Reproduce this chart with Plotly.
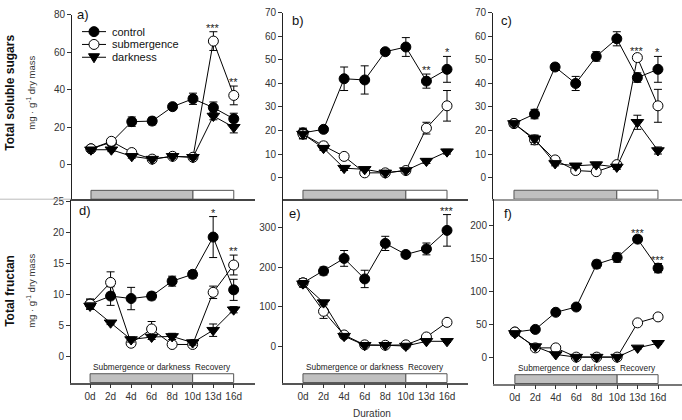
import plotly.graph_objects as go

# ---------------- data ----------------
categories = ["0d", "2d", "4d", "6d", "8d", "10d", "13d", "16d"]

# a) total soluble sugars
ctrl_a = [8.5, 12, 23, 23.3, 31, 35.2, 30.5, 24.5]
ctrl_a_err = [1, 1, 2.5, 2, 1.5, 3, 3, 3]
sub_a = [8.5, 12.5, 6.5, 3, 4.5, 4, 66, 37]
sub_a_err = [1, 1, 1, 0.8, 1, 1, 5, 5]
dark_a = [8, 8, 4.5, 3, 4.5, 4, 26, 20]
dark_a_err = [1, 1, 1, 0.8, 1, 1, 2, 3]

# b)
ctrl_b = [19, 20.5, 42, 41.5, 53.5, 55.5, 41, 46]
ctrl_b_err = [2, 1, 5, 6, 1, 4, 3, 5.5]
sub_b = [18.5, 13.5, 9, 2, 2, 3, 21, 30.5]
sub_b_err = [2, 1.5, 1, 1, 0.5, 0.5, 2.5, 6.5]
dark_b = [18.5, 12.5, 4, 3.5, 2, 3, 7, 11]
dark_b_err = [2, 1, 1, 0.5, 0.5, 0.5, 1, 1]

# c)
ctrl_c = [23, 27, 47, 40, 51.5, 59, 42.5, 46]
ctrl_c_err = [1, 2, 1.5, 3, 2, 3, 2, 5.5]
sub_c = [23, 16, 7.5, 3, 2.5, 5.5, 51, 30.5]
sub_c_err = [1, 2, 1, 0.5, 0.5, 1, 1, 7]
dark_c = [23, 16.5, 6, 5, 5.5, 4.5, 23.5, 11.5]
dark_c_err = [1, 1.5, 1, 1, 1, 1, 3, 1.5]

# d) total fructan
ctrl_d = [8.5, 9.8, 9.4, 9.8, 12.2, 13.3, 19.3, 10.8]
ctrl_d_err = [0.8, 1.5, 1.8, 0.6, 0.8, 0.6, 3.3, 1.7]
sub_d = [8.5, 12, 2.2, 4.5, 2, 2, 10.4, 14.8]
sub_d_err = [0.8, 1.7, 0.4, 1.2, 0.3, 0.3, 1, 1.6]
dark_d = [8.2, 5.5, 2.8, 3.2, 3.3, 2.3, 4.3, 7.6]
dark_d_err = [0.5, 0.3, 0.4, 0.4, 0.5, 0.4, 1, 0.5]

# e)
ctrl_e = [160, 190, 222, 170, 260, 232, 246, 293]
ctrl_e_err = [10, 10, 20, 22, 18, 8, 15, 40]
sub_e = [160, 88, 28, 3, 2, 3, 23, 60]
sub_e_err = [10, 18, 5, 2, 2, 2, 3, 5]
dark_e = [158, 110, 25, 2, 2, 0, 12, 12]
dark_e_err = [8, 6, 5, 2, 2, 2, 3, 3]

# f)
ctrl_f = [39, 43, 69, 77, 142, 152, 180, 136]
ctrl_f_err = [3, 3, 3, 3, 6, 7, 4, 7]
sub_f = [39, 15, 15, 1, 1, 1, 53, 62]
sub_f_err = [2, 2, 2, 1, 1, 1, 3, 3]
dark_f = [37, 17, 5, 1, 1, 1, 15, 22]
dark_f_err = [2, 2, 1, 1, 1, 1, 2, 2]

# significance marks: (category, stars)
sig_a = [("13d", "***"), ("16d", "**")]
sig_b = [("13d", "**"), ("16d", "*")]
sig_c = [("13d", "***"), ("16d", "*")]
sig_d = [("13d", "*"), ("16d", "**")]
sig_e = [("16d", "***")]
sig_f = [("13d", "***"), ("16d", "***")]

series_names = ["control", "submergence", "darkness"]
panel_labels = ["a)", "b)", "c)", "d)", "e)", "f)"]
yticks_a = [0, 20, 40, 60, 80]
yticks_bc = [0, 10, 20, 30, 40, 50, 60, 70]
yticks_d = [0, 5, 10, 15, 20, 25]
yticks_e = [0, 100, 200, 300]
yticks_f = [0, 50, 100, 150, 200]

# ---------------- layout config ----------------
W, H = 682, 420
FONT = "Liberation Sans, Arial, sans-serif"

def px(x):
    return x / W

def py(y):
    return 1 - y / H

panels = [
    dict(data=(ctrl_a, ctrl_a_err, sub_a, sub_a_err, dark_a, dark_a_err), sig=sig_a,
         dx=[px(72), px(255)], dy=[py(196), py(9)], xr=[-0.93, 8.04], yr=[-18.4, 80],
         yt=yticks_a, bottom=False, lab=(px(75), py(9)), xline="#444"),
    dict(data=(ctrl_b, ctrl_b_err, sub_b, sub_b_err, dark_b, dark_b_err), sig=sig_b,
         dx=[px(283), px(468)], dy=[py(196), py(7)], xr=[-0.97, 8.02], yr=[-9.2, 70],
         yt=yticks_bc, bottom=False, lab=(px(290), py(15)), xline="#444"),
    dict(data=(ctrl_c, ctrl_c_err, sub_c, sub_c_err, dark_c, dark_c_err), sig=sig_c,
         dx=[px(493), 1.0], dy=[py(196), py(7)], xr=[-1.02, 8.17], yr=[-9.2, 70],
         yt=yticks_bc, bottom=False, lab=(px(499), py(15)), xline="#999"),
    dict(data=(ctrl_d, ctrl_d_err, sub_d, sub_d_err, dark_d, dark_d_err), sig=sig_d,
         dx=[px(71), px(255)], dy=[py(382), py(196)], xr=[-0.93, 8.04], yr=[-4.13, 25.4],
         yt=yticks_d, bottom=True, lab=(px(77), py(207)), xline="#555"),
    dict(data=(ctrl_e, ctrl_e_err, sub_e, sub_e_err, dark_e, dark_e_err), sig=sig_e,
         dx=[px(283), px(468)], dy=[py(382), py(196)], xr=[-0.97, 8.02], yr=[-92.5, 372],
         yt=yticks_e, bottom=True, lab=(px(287), py(210)), xline="#555"),
    dict(data=(ctrl_f, ctrl_f_err, sub_f, sub_f_err, dark_f, dark_f_err), sig=sig_f,
         dx=[px(494), 1.0], dy=[py(383), py(196)], xr=[-1.02, 8.17], yr=[-39.1, 240.6],
         yt=yticks_f, bottom=True, lab=(px(502), py(210)), xline="#777"),
]

marker_styles = [
    dict(symbol="circle", size=10, color="black", line=dict(color="black", width=1)),
    dict(symbol="circle", size=10, color="white", line=dict(color="black", width=1)),
    dict(symbol="triangle-down", size=11, color="black", line=dict(color="black", width=1)),
]

fig = go.Figure()
layout = dict(
    width=W, height=H, margin=dict(l=0, r=0, t=0, b=0),
    paper_bgcolor="white", plot_bgcolor="rgba(0,0,0,0)",
    showlegend=False, font=dict(family=FONT, size=10, color="#333"),
)
shapes = []
annotations = []

for i, p in enumerate(panels):
    n = i + 1
    xa = "x" if n == 1 else f"x{n}"
    ya = "y" if n == 1 else f"y{n}"
    xkey = "xaxis" if n == 1 else f"xaxis{n}"
    ykey = "yaxis" if n == 1 else f"yaxis{n}"
    vals = p["data"]
    for s in range(3):
        y = vals[2 * s]
        err = vals[2 * s + 1]
        fig.add_trace(go.Scatter(
            x=categories, y=y, xaxis=xa, yaxis=ya, mode="lines+markers",
            name=series_names[s], line=dict(color="black", width=1),
            marker=marker_styles[s],
            error_y=dict(type="data", array=err, visible=True, color="black",
                         thickness=1, width=4),
        ))
    # significance stars above the highest error bar
    for cat, txt in p["sig"]:
        k = categories.index(cat)
        top = max(vals[2 * s][k] + vals[2 * s + 1][k] for s in range(3))
        annotations.append(dict(x=cat, y=top, xref=xa, yref=ya, text=txt,
                                showarrow=False, xanchor="center", yanchor="bottom",
                                yshift=-4,
                                font=dict(size=11, color="#222", family=FONT)))
    layout[xkey] = dict(
        domain=p["dx"], anchor=ya, type="category", range=p["xr"],
        categoryorder="array", categoryarray=categories,
        showline=True, linecolor=p["xline"], linewidth=1.5,
        showgrid=False, zeroline=False,
        showticklabels=p["bottom"], ticks="outside" if p["bottom"] else "",
        ticklen=4, tickcolor="#333",
        tickfont=dict(size=10, color="#333", family=FONT),
    )
    layout[ykey] = dict(
        domain=p["dy"], anchor=xa, range=p["yr"], tickvals=p["yt"],
        showline=True, linecolor="#222", linewidth=1,
        showgrid=False, zeroline=False, ticks="outside", ticklen=4,
        tickcolor="#333", tickfont=dict(size=10, color="#333", family=FONT),
    )
    # treatment bar
    bar_h = 0.048
    shapes.append(dict(type="rect", xref=xa, yref=f"{ya} domain", x0=0, x1=5,
                       y0=0, y1=bar_h, fillcolor="#c0c0c0",
                       line=dict(color="#555", width=1), layer="below"))
    shapes.append(dict(type="rect", xref=xa, yref=f"{ya} domain", x0=5, x1=7,
                       y0=0, y1=bar_h, fillcolor="white",
                       line=dict(color="#555", width=1), layer="below"))
    if p["bottom"]:
        annotations.append(dict(x=2.5, y=bar_h, xref=xa, yref=f"{ya} domain",
                                text="Submergence or darkness", showarrow=False,
                                xanchor="center", yanchor="bottom", yshift=0,
                                font=dict(size=8.3, color="#222", family=FONT)))
        annotations.append(dict(x=6, y=bar_h, xref=xa, yref=f"{ya} domain",
                                text="Recovery", showarrow=False,
                                xanchor="center", yanchor="bottom", yshift=0,
                                font=dict(size=8.3, color="#222", family=FONT)))
    # panel label
    annotations.append(dict(x=p["lab"][0], y=p["lab"][1], xref="paper", yref="paper",
                            text=panel_labels[i], showarrow=False,
                            xanchor="left", yanchor="middle",
                            font=dict(size=13, color="#111", family=FONT)))

# row titles
annotations.append(dict(x=px(10), y=py(88), xref="paper", yref="paper",
                        text="<b>Total soluble sugars</b>", textangle=-90,
                        xanchor="center", yanchor="middle",
                        showarrow=False, font=dict(size=12, color="#111", family=FONT)))
annotations.append(dict(x=px(10), y=py(289), xref="paper", yref="paper",
                        text="<b>Total fructan</b>", textangle=-90,
                        xanchor="center", yanchor="middle",
                        showarrow=False, font=dict(size=12, color="#111", family=FONT)))
for yc in (88, 289):
    annotations.append(dict(x=px(31), y=py(yc), xref="paper", yref="paper",
                            text="mg · g<sup>-1</sup> dry mass", textangle=-90,
                            xanchor="center", yanchor="middle",
                            showarrow=False, font=dict(size=9.5, color="#333", family=FONT)))
annotations.append(dict(x=px(372), y=py(413), xref="paper", yref="paper",
                        text="Duration", showarrow=False,
                        xanchor="center", yanchor="middle",
                        font=dict(size=10, color="#333", family=FONT)))

# manual legend in panel a
leg_y = [26, 39, 52]
for s in range(3):
    yy = py(leg_y[s])
    shapes.append(dict(type="line", xref="paper", yref="paper", x0=px(82), x1=px(106),
                       y0=yy, y1=yy, line=dict(color="black", width=1)))
    if s < 2:
        shapes.append(dict(type="circle", xref="paper", yref="paper",
                           xsizemode="pixel", ysizemode="pixel",
                           xanchor=px(94), yanchor=yy, x0=-5, x1=5, y0=-5, y1=5,
                           fillcolor="black" if s == 0 else "white",
                           line=dict(color="black", width=1)))
    else:
        shapes.append(dict(type="path", xref="paper", yref="paper",
                           xsizemode="pixel", ysizemode="pixel",
                           xanchor=px(94), yanchor=yy,
                           path="M -5.5 3.5 L 5.5 3.5 L 0 -5.5 Z",
                           fillcolor="black", line=dict(color="black", width=1)))
    annotations.append(dict(x=px(110), y=yy, xref="paper", yref="paper",
                            text=series_names[s], showarrow=False,
                            xanchor="left", yanchor="middle",
                            font=dict(size=11, color="#111", family=FONT)))

# thin separator line at left edge
shapes.append(dict(type="line", xref="paper", yref="paper", x0=0, x1=px(71),
                   y0=py(196), y1=py(196), line=dict(color="#bbb", width=1)))

layout["shapes"] = shapes
layout["annotations"] = annotations
fig.update_layout(**layout)
fig.write_html("out.html", config={"displayModeBar": False},
               post_script="document.body.style.margin='0px';")
